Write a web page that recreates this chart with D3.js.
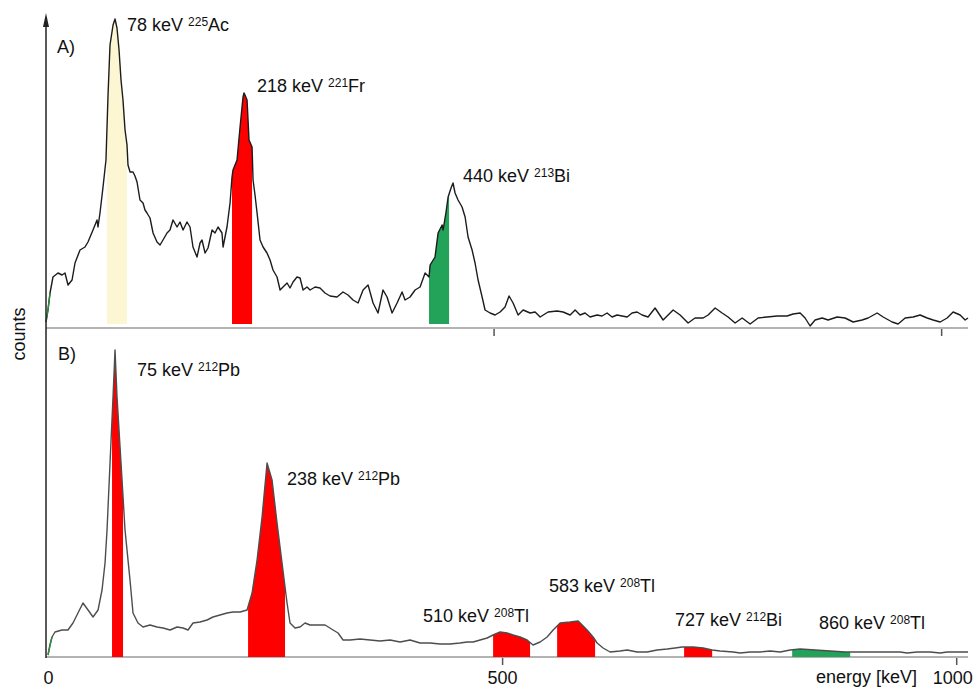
<!DOCTYPE html>
<html>
<head>
<meta charset="utf-8">
<script src="https://cdn.jsdelivr.net/npm/d3@7"></script>
<style>
  body { margin: 0; background: #fff; }
  svg { display: block; font-family: "Liberation Sans", Arial, sans-serif; }
</style>
</head>
<body>
<div id="chart"></div>
<script>
// spectrum A (225Ac source): [energy keV, counts]
const spectrumA = [
  [0, 6], [2.2, 18], [4.5, 35], [7.8, 51], [13.4, 55], [17.9, 53], [21.2, 55], [24.6, 43],
  [29.1, 48], [32.4, 65], [38, 78], [43.6, 81], [46.9, 86], [52.5, 98], [57, 108], [58.1, 101],
  [60.3, 115], [63.7, 141], [67, 168], [69.3, 233], [71.5, 283], [74.9, 303], [77.1, 309],
  [79.3, 300], [81.6, 278], [83.8, 248], [86, 228], [88.3, 198], [90.5, 183], [91.6, 163],
  [93.9, 156], [97.2, 156], [99.4, 152], [101.7, 146], [105, 128], [108.4, 125], [110.6, 118],
  [112.8, 115], [116.2, 110], [119.6, 95], [124, 86], [127.4, 83], [130.7, 88], [135.2, 95],
  [138.5, 98], [141.9, 108], [146.4, 101], [149.7, 106], [153.1, 98], [157.5, 106], [160.9, 101],
  [164.2, 81], [168.7, 71], [172.1, 85], [174.3, 88], [177.7, 75], [181, 80], [185.5, 98],
  [188.8, 95], [192.2, 101], [196.6, 95], [197.8, 81], [202.2, 101], [205.6, 125], [207.8, 151],
  [208.9, 158], [213.4, 168], [216.8, 201], [220.1, 231], [221.2, 235], [222.3, 233], [224.6, 228],
  [226.8, 188], [230.2, 181], [231.3, 148], [233.5, 133], [235.8, 115], [239.1, 88], [242.5, 81],
  [246.9, 75], [250.3, 68], [253.6, 58], [258.1, 51], [261.5, 38], [264.8, 41], [269.3, 45],
  [272.6, 40], [276, 46], [280.4, 51], [283.8, 50], [287.2, 38], [291.6, 41], [295, 38],
  [300.6, 41], [306.1, 40], [311.7, 35], [317.3, 32], [325.1, 31], [331.8, 36], [337.4, 33],
  [343, 28], [348.6, 25], [354.2, 38], [359.8, 43], [365.4, 25], [370.9, 15], [376.5, 38],
  [381, 31], [386.6, 15], [392.2, 25], [397.8, 36], [401.1, 28], [406.7, 31], [412.3, 38],
  [417.9, 41], [423.5, 55], [427.9, 51], [429.1, 63], [434.6, 71], [438, 95], [442.5, 103],
  [443.6, 98], [446.9, 116], [449.2, 131], [452.5, 140], [454.7, 145], [457, 135], [460.3, 128],
  [464.8, 121], [468.2, 111], [471.5, 91], [476, 78], [479.3, 65], [482.7, 48], [487.2, 31],
  [490.5, 18], [496.1, 15], [501.7, 13], [507.3, 16], [512.8, 21], [517.3, 32], [521.8, 25],
  [527.4, 13], [533, 18], [540.8, 15], [546.4, 16], [552, 11], [560.9, 16], [570.9, 17],
  [577.7, 16], [585.5, 13], [591.1, 18], [596.6, 13], [602.2, 15], [607.8, 11], [615.6, 13],
  [621.2, 12], [626.8, 15], [632.4, 11], [638, 13], [643.6, 12], [649.2, 11], [654.7, 15],
  [660.3, 16], [665.9, 13], [672.6, 11], [680.4, 20], [689.4, 8], [700.6, 18], [708.4, 13],
  [717.3, 5], [725.1, 10], [734.1, 10], [739.7, 13], [747.5, 20], [755.3, 15], [762, 11],
  [769.8, 5], [777.7, 10], [786.6, 4], [795.5, 10], [805.6, 11], [816.8, 12], [827.9, 12],
  [834.6, 14], [842.5, 15], [848, 10], [853.6, 2], [859.2, 8], [867, 10], [873.7, 8],
  [883.8, 11], [892.7, 10], [901.7, 6], [911.7, 8], [918.4, 10], [928.5, 15], [935.2, 11],
  [945.3, 6], [951.9, 4], [959.8, 10], [968.7, 11], [976.5, 13], [984.4, 10], [991.1, 8],
  [998.9, 6], [1006.7, 10], [1013.4, 16], [1021.2, 13], [1026.8, 8], [1030, 10]
];

// spectrum B (212Pb source): [energy keV, counts]
const spectrumB = [
  [0, 2], [2.2, 12], [4.4, 20], [7.7, 25], [15.4, 27], [22, 27], [27.5, 34], [33, 44],
  [38.5, 54], [44.1, 47], [49.6, 40], [55.1, 47], [59.5, 67], [62.8, 94], [65, 127], [68.3, 194],
  [71.6, 260], [73.8, 307], [76, 260], [80.4, 194], [84.8, 127], [90.3, 77], [93.6, 44],
  [99.1, 34], [104.6, 30], [112.3, 32], [120, 30], [126.7, 29], [134.4, 27], [142.1, 30],
  [148.7, 29], [154.2, 27], [159.7, 34], [167.4, 35], [175.1, 37], [181.7, 40], [189.4, 42],
  [197.1, 44], [203.7, 45], [211.5, 45], [219.2, 47], [224.7, 64], [230.2, 97], [235.7, 140],
  [241.2, 194], [246.7, 177], [252.2, 134], [257.7, 94], [263.2, 54], [266.5, 34], [272, 29],
  [277.5, 30], [283, 34], [288.5, 32], [296.3, 32], [305.1, 32], [313.9, 27], [319.4, 24],
  [324.9, 17], [332.6, 17], [343.6, 18], [354.6, 17], [365.6, 16], [376.7, 17], [387.7, 15],
  [398.7, 17], [409.7, 14], [420.7, 14], [431.7, 13], [442.7, 13], [453.7, 14], [461.5, 15],
  [468.1, 15], [475.8, 17], [483.5, 19], [490.1, 22], [497.8, 25], [505.5, 24], [512.1, 22],
  [519.8, 20], [527.5, 17], [534.1, 12], [541.9, 15], [549.6, 20], [556.2, 27], [563.9, 34],
  [574.9, 35], [583.7, 36], [586, 34], [593.6, 27], [600.2, 20], [604.6, 14], [611.2, 9],
  [618.9, 5], [629.9, 6], [637.7, 7], [648.7, 5], [659.7, 5], [670.7, 7], [681.7, 8],
  [690.5, 9], [698.2, 10], [710.4, 10], [721.4, 9], [731.3, 7], [740.1, 6], [754.4, 5],
  [762.1, 4], [773.1, 5], [784.1, 5], [795.2, 6], [806.2, 5], [817.2, 7], [828.2, 8],
  [844.7, 7], [861.2, 6], [877.8, 5], [894.3, 5], [908.6, 5], [924, 5], [938.3, 5], [946, 4],
  [957, 5], [971.4, 5], [982.4, 4], [990.1, 5], [1004.4, 5], [1013, 5]
];

// shaded energy windows [from, to] keV
const windowsA = [
  { from: 68.2, to: 90.5, group: 'ac' },
  { from: 207.8, to: 230.2, group: 'gamma' },
  { from: 427.9, to: 450.3, group: 'bi' }
];
const windowsB = [
  { from: 70.5, to: 82.6, group: 'gamma' },
  { from: 220.3, to: 261, group: 'gamma' },
  { from: 490.1, to: 530.8, group: 'gamma' },
  { from: 560.6, to: 602.4, group: 'gamma' },
  { from: 700.4, to: 731.3, group: 'gamma' },
  { from: 819.4, to: 883.3, group: 'bi' }
];

// peak annotations
const labelsA = [
  { text: '78 keV', mass: '225', el: 'Ac' },
  { text: '218 keV', mass: '221', el: 'Fr' },
  { text: '440 keV', mass: '213', el: 'Bi' }
];
const labelsB = [
  { text: '75 keV', mass: '212', el: 'Pb' },
  { text: '238 keV', mass: '212', el: 'Pb' },
  { text: '510 keV', mass: '208', el: 'Tl' },
  { text: '583 keV', mass: '208', el: 'Tl' },
  { text: '727 keV', mass: '212', el: 'Bi' },
  { text: '860 keV', mass: '208', el: 'Tl' }
];

const xTicks = [0, 500, 1000];

const colors = { ac: '#fcf7d2', gamma: '#ff0000', bi: '#22a359' };

const width = 977, height = 687;
const svg = d3.select('#chart').append('svg')
  .attr('width', width)
  .attr('height', height);

const panels = [
  {
    data: spectrumA, windows: windowsA, labels: labelsA, tag: 'A)',
    x: d3.scaleLinear().domain([0, 1030]).range([46, 968]),
    y: d3.scaleLinear().domain([0, 310]).range([328, 18]),
    floor: 4, line: '#1c1c1c', showTickLabels: false,
    tagPos: [57, 53],
    labelPos: [[127, 31], [257, 92], [463, 182]]
  },
  {
    data: spectrumB, windows: windowsB, labels: labelsB, tag: 'B)',
    x: d3.scaleLinear().domain([0, 1013]).range([48, 968]),
    y: d3.scaleLinear().domain([0, 310]).range([657, 347]),
    floor: 0, line: '#4d4d4d', showTickLabels: true,
    tagPos: [58, 360],
    labelPos: [[137, 376], [287, 485], [423, 622], [549, 592], [675, 626], [819, 629]]
  }
];

function interp(data, e) {
  for (let i = 1; i < data.length; i++) {
    if (data[i][0] >= e) {
      const a = data[i - 1], b = data[i];
      const t = (e - a[0]) / (b[0] - a[0]);
      return a[1] + t * (b[1] - a[1]);
    }
  }
  return data[data.length - 1][1];
}

panels.forEach(p => {
  const g = svg.append('g');

  // baseline
  g.append('line')
    .attr('x1', 46).attr('x2', p.x.range()[1])
    .attr('y1', p.y(0)).attr('y2', p.y(0))
    .attr('stroke', '#b3b3b3')
    .attr('stroke-width', 2);

  // shaded windows
  const area = d3.area()
    .x(d => p.x(d[0]))
    .y0(p.y(p.floor))
    .y1(d => p.y(d[1]));

  p.windows.forEach(w => {
    const pts = [[w.from, interp(p.data, w.from)]]
      .concat(p.data.filter(d => d[0] > w.from && d[0] < w.to))
      .concat([[w.to, interp(p.data, w.to)]]);
    g.append('path')
      .datum(pts)
      .attr('d', area)
      .attr('fill', colors[w.group]);
  });

  // spectrum line
  const line = d3.line()
    .x(d => p.x(d[0]))
    .y(d => p.y(d[1]));

  g.append('path')
    .datum(p.data)
    .attr('d', line)
    .attr('fill', 'none')
    .attr('stroke', p.line)
    .attr('stroke-width', 1.4)
    .attr('stroke-linejoin', 'round');

  g.append('path')
    .datum(p.data.slice(0, 3))
    .attr('d', line)
    .attr('fill', 'none')
    .attr('stroke', '#2e8b3e')
    .attr('stroke-width', 1.4);

  // x axis ticks
  const axis = g.append('g')
    .attr('transform', 'translate(0,' + (p.y(0) + 1) + ')')
    .call(d3.axisBottom(p.x).tickValues(xTicks).tickSize(7).tickFormat(d3.format('d')));
  axis.select('.domain').remove();
  axis.selectAll('.tick line')
    .attr('stroke', '#555')
    .attr('stroke-width', 1.5)
    .attr('opacity', d => d === 0 ? 0 : 1);
  axis.selectAll('.tick text')
    .attr('y', 13)
    .attr('dx', d => d === 1000 ? -4 : 0)
    .attr('fill', '#111')
    .style('font-size', '18px')
    .style('font-family', '"Liberation Sans", Arial, sans-serif')
    .attr('opacity', p.showTickLabels ? 1 : 0);

  // panel tag
  g.append('text')
    .attr('x', p.tagPos[0]).attr('y', p.tagPos[1])
    .attr('font-size', 18)
    .attr('fill', '#111')
    .text(p.tag);

  // peak labels
  p.labels.forEach((l, i) => {
    const t = g.append('text')
      .attr('x', p.labelPos[i][0])
      .attr('y', p.labelPos[i][1])
      .attr('font-size', 18)
      .attr('fill', '#111');
    t.append('tspan').text(l.text + ' ');
    t.append('tspan').attr('font-size', 12).attr('dy', -5).text(l.mass);
    t.append('tspan').attr('dy', 5).text(l.el);
  });
});

// y axis with arrow
svg.append('line')
  .attr('x1', 46).attr('x2', 46)
  .attr('y1', 22).attr('y2', 658)
  .attr('stroke', '#222')
  .attr('stroke-width', 1.5);
svg.append('path')
  .attr('d', 'M46,13 L43,27 L49,27 Z')
  .attr('fill', '#222');

svg.append('text')
  .attr('transform', 'translate(25,334) rotate(-90)')
  .attr('text-anchor', 'middle')
  .attr('font-size', 18)
  .attr('fill', '#111')
  .text('counts');

svg.append('text')
  .attr('x', 816).attr('y', 683)
  .attr('font-size', 18)
  .attr('fill', '#111')
  .text('energy [keV]');
</script>
</body>
</html>
